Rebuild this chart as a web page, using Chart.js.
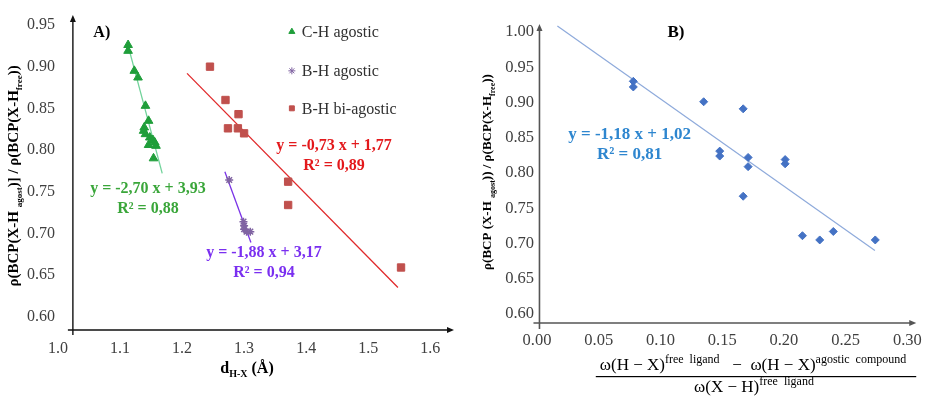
<!DOCTYPE html>
<html>
<head>
<meta charset="utf-8">
<script src="https://cdn.jsdelivr.net/npm/chart.js@4.4.0/dist/chart.umd.min.js"></script>
<style>
html, body { margin: 0; padding: 0; background: #fff; }
#wrap { position: relative; width: 930px; height: 396px; }
.box { position: absolute; top: 0; width: 465px; height: 396px; }
#boxA { left: 0; }
#boxB { left: 465px; }
</style>
</head>
<body>
<div id="wrap">
	<div class="box" id="boxA"><canvas id="chartA"></canvas></div>
	<div class="box" id="boxB"><canvas id="chartB"></canvas></div>
</div>
<script>
// ---- panel A data ----
var chX = [1.113, 1.113, 1.123, 1.129, 1.141, 1.146, 1.139, 1.138, 1.141, 1.148, 1.153, 1.156, 1.146, 1.158, 1.154];
var chY = [0.926, 0.919, 0.895, 0.887, 0.853, 0.835, 0.827, 0.823, 0.819, 0.815, 0.812, 0.809, 0.806, 0.805, 0.790];
var bhX = [1.276, 1.299, 1.300, 1.300, 1.304, 1.310];
var bhY = [0.764, 0.714, 0.709, 0.705, 0.702, 0.702];
var biX = [1.245, 1.270, 1.291, 1.274, 1.290, 1.300, 1.371, 1.371, 1.553];
var biY = [0.900, 0.860, 0.843, 0.826, 0.826, 0.820, 0.762, 0.734, 0.659];
var chFitX = [1.112, 1.168], chFitY = [0.928, 0.772];
var bhFitX = [1.269, 1.311], bhFitY = [0.774, 0.689];
var biFitX = [1.208, 1.548], biFitY = [0.892, 0.635];
var xTicksA = [1.0, 1.1, 1.2, 1.3, 1.4, 1.5, 1.6];
var yTicksA = [0.60, 0.65, 0.70, 0.75, 0.80, 0.85, 0.90, 0.95];

// ---- panel B data ----
var omX = [0.078, 0.078, 0.135, 0.167, 0.148, 0.148, 0.171, 0.171, 0.201, 0.201, 0.167, 0.215, 0.229, 0.240, 0.274];
var omY = [0.930, 0.922, 0.901, 0.891, 0.831, 0.824, 0.822, 0.809, 0.819, 0.813, 0.767, 0.711, 0.705, 0.717, 0.705];
var omFitX = [0.0165, 0.2737], omFitY = [1.0085, 0.690];
var xTicksB = [0.00, 0.05, 0.10, 0.15, 0.20, 0.25, 0.30];
var yTicksB = [0.60, 0.65, 0.70, 0.75, 0.80, 0.85, 0.90, 0.95, 1.00];

var SERIF = "'Liberation Serif', 'DejaVu Serif', serif";

function pts(xs, ys) {
	return xs.map(function(x, i) { return {x: x, y: ys[i]}; });
}

function fixedTicks(list) {
	return function(axis) {
		axis.ticks = list.map(function(v) { return {value: v}; });
	};
}

// draws a run of text pieces (different fonts / offsets) centred on x
function drawRich(ctx, parts, x, y) {
	var total = 0;
	parts.forEach(function(p) { ctx.font = p.font; p.w = ctx.measureText(p.t).width; total += p.w; });
	var cx = x - total / 2;
	ctx.textAlign = "left";
	ctx.textBaseline = "alphabetic";
	parts.forEach(function(p) {
		ctx.font = p.font;
		ctx.fillText(p.t, cx, y + (p.dy || 0));
		cx += p.w;
	});
	return total;
}

var arrowAxes = {
	id: "arrowAxes",
	afterDraw: function(chart, args, o) {
		var ctx = chart.ctx, xs = chart.scales.x, ys = chart.scales.y;
		var x0 = xs.getPixelForValue(o.yAxisAt);
		var y0 = ys.getPixelForValue(o.xAxisAt);
		var xr = xs.right - 1, yt = ys.top;
		ctx.save();
		ctx.strokeStyle = o.color;
		ctx.fillStyle = o.color;
		ctx.lineWidth = o.width;
		ctx.beginPath();
		ctx.moveTo(x0 - o.over, y0);
		ctx.lineTo(xr - 4, y0);
		ctx.moveTo(x0, y0 + o.over);
		ctx.lineTo(x0, yt + 4);
		ctx.stroke();
		ctx.beginPath();
		ctx.moveTo(xr, y0);
		ctx.lineTo(xr - 7, y0 - 3);
		ctx.lineTo(xr - 7, y0 + 3);
		ctx.closePath();
		ctx.fill();
		ctx.beginPath();
		ctx.moveTo(x0, yt);
		ctx.lineTo(x0 - 3, yt + 7);
		ctx.lineTo(x0 + 3, yt + 7);
		ctx.closePath();
		ctx.fill();
		ctx.restore();
	}
};

var notes = {
	id: "notes",
	afterDatasetsDraw: function(chart, args, o) {
		var ctx = chart.ctx, xs = chart.scales.x, ys = chart.scales.y;
		ctx.save();
		(o.items || []).forEach(function(it) {
			var px = xs.getPixelForValue(it.x), py = ys.getPixelForValue(it.y);
			ctx.fillStyle = it.color;
			ctx.font = it.font;
			ctx.textAlign = it.align || "center";
			ctx.textBaseline = "middle";
			it.lines.forEach(function(line, i) {
				ctx.fillText(line, px, py + i * 20);
			});
		});
		// legend
		if (o.legend) {
			var lg = o.legend;
			var lx = xs.getPixelForValue(lg.x);
			lg.rows.forEach(function(r) {
				var ds = chart.data.datasets[r.ds];
				var ly = ys.getPixelForValue(r.y);
				ctx.fillStyle = ds.backgroundColor;
				ctx.strokeStyle = ds.borderColor;
				Chart.helpers.drawPoint(ctx, {pointStyle: ds.pointStyle, radius: lg.radius, rotation: 0, borderWidth: ds.pointBorderWidth || 1}, lx, ly);
				ctx.fillStyle = "#303030";
				ctx.font = "16px " + SERIF;
				ctx.textAlign = "left";
				ctx.textBaseline = "middle";
				ctx.fillText(ds.label, lx + 10, ly + 1);
			});
		}
		// rotated y title
		if (o.yTitle) {
			ctx.fillStyle = "#000";
			ctx.translate(o.yTitle.x, o.yTitle.y);
			ctx.rotate(-Math.PI / 2);
			drawRich(ctx, o.yTitle.parts, 0, 5);
		}
		ctx.restore();
		if (o.after) o.after(chart, ctx);
	}
};

function tickFont(size) {
	return {family: SERIF, size: size};
}

// ---------- chart A ----------
var bigA = "bold 15px " + SERIF, subA = "bold 9px " + SERIF;
new Chart(document.getElementById("chartA"), {
	type: "scatter",
	data: {
		datasets: [
			{label: "C-H agostic", data: pts(chX, chY), pointStyle: "triangle", pointRadius: 5, backgroundColor: "#1f9e3a", borderColor: "#1f9e3a", pointBorderWidth: 1},
			{label: "B-H agostic", data: pts(bhX, bhY), pointStyle: "star", pointRadius: 4, backgroundColor: "#8064a2", borderColor: "#8064a2", pointBorderWidth: 1.5},
			{label: "B-H bi-agostic", data: pts(biX, biY), pointStyle: "rect", pointRadius: 5.2, backgroundColor: "#c0504d", borderColor: "#c0504d", pointBorderWidth: 1},
			{type: "line", label: "fit C-H", data: pts(chFitX, chFitY), borderColor: "#72d39b", borderWidth: 1.3, pointRadius: 0, fill: false},
			{type: "line", label: "fit B-H", data: pts(bhFitX, bhFitY), borderColor: "#7a33e6", borderWidth: 1.3, pointRadius: 0, fill: false},
			{type: "line", label: "fit bi", data: pts(biFitX, biFitY), borderColor: "#e0292b", borderWidth: 1.3, pointRadius: 0, fill: false}
		]
	},
	options: {
		responsive: true,
		maintainAspectRatio: false,
		animation: false,
		layout: {padding: {top: 15, right: 10, left: 0, bottom: 0}},
		plugins: {
			legend: {display: false},
			tooltip: {enabled: false},
			arrowAxes: {yAxisAt: 1.024, xAxisAt: 0.584, color: "#111", width: 1.4, over: 5},
			notes: {
				items: [
					{x: 1.057, y: 0.940, lines: ["A)"], color: "#000", font: "bold 16px " + SERIF, align: "left"},
					{x: 1.145, y: 0.753, lines: ["y = -2,70 x + 3,93", "R² = 0,88"], color: "#3aa63a", font: "bold 16px " + SERIF},
					{x: 1.332, y: 0.677, lines: ["y = -1,88 x + 3,17", "R² = 0,94"], color: "#7a2ff0", font: "bold 16px " + SERIF},
					{x: 1.445, y: 0.805, lines: ["y = -0,73 x + 1,77", "R² = 0,89"], color: "#e3191c", font: "bold 16px " + SERIF}
				],
				legend: {x: 1.377, radius: 3.5, rows: [{ds: 0, y: 0.942}, {ds: 1, y: 0.895}, {ds: 2, y: 0.850}]},
				yTitle: {x: 13, y: 176, parts: [
					{t: "ρ(BCP(X-H ", font: bigA},
					{t: "agost", font: subA, dy: 4},
					{t: ")] / ρ(BCP(X-H", font: bigA},
					{t: "free", font: subA, dy: 4},
					{t: "))", font: bigA}
				]},
				after: function(chart, ctx) {
					ctx.save();
					ctx.fillStyle = "#000";
					drawRich(ctx, [
						{t: "d", font: "bold 16px " + SERIF},
						{t: "H-X", font: "bold 10px " + SERIF, dy: 4},
						{t: " (Å)", font: "bold 16px " + SERIF}
					], 247, 373);
					ctx.restore();
				}
			}
		},
		scales: {
			x: {
				type: "linear", min: 1.0, max: 1.64,
				afterBuildTicks: fixedTicks(xTicksA),
				afterFit: function(s) { s.height = 66; },
				grid: {display: false, drawTicks: false},
				border: {display: false},
				ticks: {padding: 9, color: "#404040", font: tickFont(16), autoSkip: false, maxRotation: 0,
					callback: function(v) { return v.toFixed(1); }}
			},
			y: {
				type: "linear", min: 0.584, max: 0.962,
				afterBuildTicks: fixedTicks(yTicksA),
				afterFit: function(s) { s.width = 58; },
				grid: {display: false, drawTicks: false},
				border: {display: false},
				ticks: {padding: 3, color: "#404040", font: tickFont(16), autoSkip: false,
					callback: function(v) { return v.toFixed(2); }}
			}
		}
	},
	plugins: [arrowAxes, notes]
});

// ---------- chart B ----------
var bigB = "bold 13px " + SERIF, subB = "bold 8px " + SERIF;
var mathF = "17px " + SERIF, supF = "12px " + SERIF;
new Chart(document.getElementById("chartB"), {
	type: "scatter",
	data: {
		datasets: [
			{label: "ω", data: pts(omX, omY), pointStyle: "rectRot", pointRadius: 4, backgroundColor: "#4472c4", borderColor: "#4472c4", pointBorderWidth: 1},
			{type: "line", label: "fit", data: pts(omFitX, omFitY), borderColor: "#8eaadb", borderWidth: 1.2, pointRadius: 0, fill: false}
		]
	},
	options: {
		responsive: true,
		maintainAspectRatio: false,
		animation: false,
		layout: {padding: {top: 24, right: 7, left: 0, bottom: 0}},
		plugins: {
			legend: {display: false},
			tooltip: {enabled: false},
			arrowAxes: {yAxisAt: 0.002, xAxisAt: 0.5872, color: "#555", width: 1.6, over: 6},
			notes: {
				items: [
					{x: 0.1125, y: 0.9986, lines: ["B)"], color: "#000", font: "bold 17px " + SERIF},
					{x: 0.075, y: 0.854, lines: ["y = -1,18 x + 1,02", "R² = 0,81"], color: "#2e86cf", font: "bold 17px " + SERIF}
				],
				yTitle: {x: 21, y: 172, parts: [
					{t: "ρ(BCP (X-H ", font: bigB},
					{t: "agost", font: subB, dy: 4},
					{t: ")) / ρ(BCP(X-H", font: bigB},
					{t: "free", font: subB, dy: 4},
					{t: "))", font: bigB}
				]},
				after: function(chart, ctx) {
					ctx.save();
					ctx.fillStyle = "#000";
					var w = drawRich(ctx, [
						{t: "ω(H − X)", font: mathF},
						{t: "free  ligand", font: supF, dy: -7},
						{t: "   −  ω(H − X)", font: mathF},
						{t: "agostic  compound", font: supF, dy: -7}
					], 288, 370);
					ctx.fillRect(288 - w / 2 - 4, 376, w + 14, 1.2);
					drawRich(ctx, [
						{t: "ω(X − H)", font: mathF},
						{t: "free  ligand", font: supF, dy: -7}
					], 289, 392);
					ctx.restore();
				}
			}
		},
		scales: {
			x: {
				type: "linear", min: 0, max: 0.308,
				afterBuildTicks: fixedTicks(xTicksB),
				afterFit: function(s) { s.height = 73; },
				grid: {display: false, drawTicks: false},
				border: {display: false},
				ticks: {padding: 8, color: "#404040", font: tickFont(16.5), autoSkip: false, maxRotation: 0,
					callback: function(v) { return v.toFixed(2); }}
			},
			y: {
				type: "linear", min: 0.5872, max: 1.0113,
				afterBuildTicks: fixedTicks(yTicksB),
				afterFit: function(s) { s.width = 72; },
				grid: {display: false, drawTicks: false},
				border: {display: false},
				ticks: {padding: 3, color: "#404040", font: tickFont(16.5), autoSkip: false,
					callback: function(v) { return v.toFixed(2); }}
			}
		}
	},
	plugins: [arrowAxes, notes]
});
</script>
</body>
</html>
